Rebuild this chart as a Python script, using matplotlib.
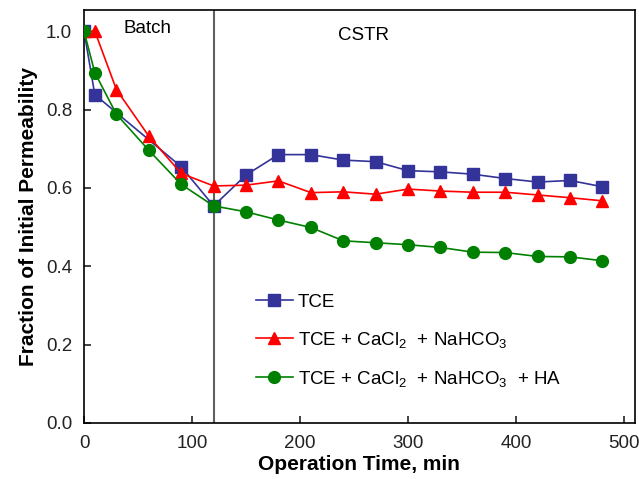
import matplotlib
matplotlib.use("Agg")
import matplotlib.pyplot as plt

plt.rcParams['font.family'] = ['Liberation Sans', 'DejaVu Sans']
plt.rcParams['mathtext.default'] = 'regular'

# data
t_tce = [0, 10, 90, 120, 150, 180, 210, 240, 270, 300, 330, 360, 390, 420, 450, 480]
tce = [1.0, 0.838, 0.654, 0.554, 0.633, 0.685, 0.685, 0.671, 0.667, 0.644, 0.641,
       0.635, 0.624, 0.615, 0.619, 0.603]

t_all = [0, 10, 30, 60, 90, 120, 150, 180, 210, 240, 270, 300, 330, 360, 390, 420, 450, 480]
tce_ca = [1.0, 1.0, 0.851, 0.732, 0.637, 0.605, 0.607, 0.618, 0.588, 0.590, 0.584,
          0.597, 0.592, 0.589, 0.589, 0.582, 0.575, 0.567]
tce_ca_ha = [1.0, 0.894, 0.788, 0.696, 0.609, 0.554, 0.539, 0.518, 0.499, 0.465, 0.460,
             0.455, 0.448, 0.436, 0.435, 0.425, 0.424, 0.414]

labels = ['TCE',
          'TCE + CaCl$_2$  + NaHCO$_3$',
          'TCE + CaCl$_2$  + NaHCO$_3$  + HA']

fig = plt.figure(figsize=(6.39, 4.79), dpi=100)
ax = fig.add_axes([0.1315, 0.117, 0.862, 0.862])

ax.axvline(120, color='#606060', lw=1.5, zorder=1)

ax.plot(t_tce, tce, color='#333399', marker='s', ms=8, lw=1.2, label=labels[0], zorder=2)
ax.plot(t_all, tce_ca, color='#ff0000', marker='^', ms=8.5, lw=1.2, label=labels[1], zorder=3)
ax.plot(t_all, tce_ca_ha, color='#008000', marker='o', ms=8.5, lw=1.2, label=labels[2], zorder=4)

ax.set_xlim(0, 510)
ax.set_ylim(0, 1.054)
ax.set_xticks([0, 100, 200, 300, 400, 500])
ax.set_yticks([0.0, 0.2, 0.4, 0.6, 0.8, 1.0])
ax.set_yticklabels(['0.0', '0.2', '0.4', '0.6', '0.8', '1.0'])
ax.tick_params(direction='in', length=5, labelsize=13.5, width=1.2, colors='#222222', pad=8.5)
for s in ax.spines.values():
    s.set_linewidth(1.2)

ax.set_xlabel('Operation Time, min', fontsize=15, fontweight='bold', labelpad=2)
ax.set_ylabel('Fraction of Initial Permeability', fontsize=15, fontweight='bold', labelpad=6)

ax.text(37, 1.006, 'Batch', fontsize=13.5, va='center', ha='left')
ax.text(235, 0.99, 'CSTR', fontsize=13.5, va='center', ha='left')

ax.legend(loc='center left', bbox_to_anchor=(0.312, 0.198), frameon=False,
          fontsize=13.5, handlelength=1.97, handletextpad=0.25, labelspacing=1.0,
          borderpad=0, borderaxespad=0)

fig.savefig('out.png', dpi=100)
